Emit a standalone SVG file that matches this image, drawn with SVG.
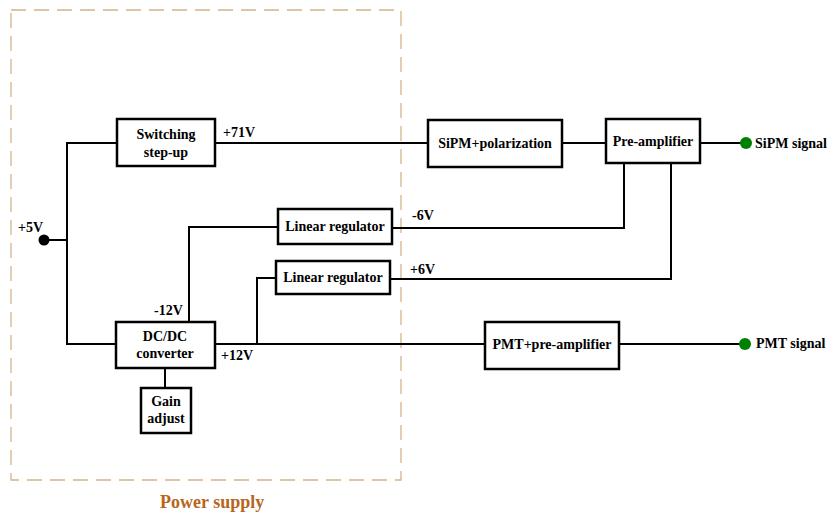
<svg xmlns="http://www.w3.org/2000/svg" width="830" height="514" viewBox="0 0 830 514">
<style>
.box{fill:#fff;stroke:#000;stroke-width:2.5}
.w{fill:none;stroke:#000;stroke-width:2}
.t{font-family:'Liberation Serif','Times New Roman',serif;font-weight:bold;font-size:14px;fill:#000}
.c{text-anchor:middle}
</style>
<rect x="11" y="10" width="390" height="470" fill="none" stroke="#d2b48c" stroke-width="1.3" stroke-dasharray="15,8"/>
<g id="connectors">
<polyline class="w" points="117,143 67,143 67,344 116,344"/>
<line class="w" x1="44" y1="240" x2="67" y2="240"/>
<line class="w" x1="215" y1="143" x2="428" y2="143"/>
<line class="w" x1="562" y1="143" x2="606" y2="143"/>
<line class="w" x1="700" y1="143" x2="746" y2="143"/>
<polyline class="w" points="278,227 189,227 189,322"/>
<polyline class="w" points="392,228 624,228 624,163"/>
<polyline class="w" points="390,279 671,279 671,163"/>
<line class="w" x1="215" y1="344" x2="485" y2="344"/>
<polyline class="w" points="257,344 257,278 276,278"/>
<line class="w" x1="165" y1="368" x2="165" y2="388"/>
<line class="w" x1="619" y1="344" x2="745" y2="344"/>
<circle cx="44" cy="240" r="5.5" fill="#000"/>
<circle cx="746" cy="143" r="6" fill="#008000"/>
<circle cx="745" cy="344" r="6" fill="#008000"/>
</g>
<g id="switching"><rect class="box" x="117" y="119" width="98" height="47"/><text class="t c" x="166" y="139">Switching</text><text class="t c" x="166" y="157">step-up</text></g>
<g id="sipm"><rect class="box" x="428" y="120" width="134" height="47"/><text class="t c" x="495" y="148">SiPM+polarization</text></g>
<g id="preamp"><rect class="box" x="606" y="119" width="94" height="44"/><text class="t c" x="653" y="146">Pre-amplifier</text></g>
<g id="linreg1"><rect class="box" x="278" y="209" width="114" height="35"/><text class="t c" x="335" y="231">Linear regulator</text></g>
<g id="linreg2"><rect class="box" x="276" y="261" width="114" height="33"/><text class="t c" x="333" y="282">Linear regulator</text></g>
<g id="dcdc"><rect class="box" x="116" y="322" width="99" height="46"/><text class="t c" x="165" y="341">DC/DC</text><text class="t c" x="165" y="358">converter</text></g>
<g id="gain"><rect class="box" x="141" y="388" width="50" height="45"/><text class="t c" x="166" y="406">Gain</text><text class="t c" x="166" y="423">adjust</text></g>
<g id="pmt"><rect class="box" x="485" y="322" width="134" height="47"/><text class="t c" x="552" y="349">PMT+pre-amplifier</text></g>
<g id="labels">
<text class="t" x="223" y="137">+71V</text>
<text class="t" x="18" y="232">+5V</text>
<text class="t" x="412" y="220">-6V</text>
<text class="t" x="410" y="274">+6V</text>
<text class="t" x="154" y="315">-12V</text>
<text class="t" x="221" y="360">+12V</text>
<text class="t" x="755" y="148">SiPM signal</text>
<text class="t" x="756" y="348">PMT signal</text>
<text x="160" y="508" font-family="'Liberation Serif','Times New Roman',serif" font-weight="bold" font-size="18" fill="#b8651b">Power supply</text>
</g>
</svg>
